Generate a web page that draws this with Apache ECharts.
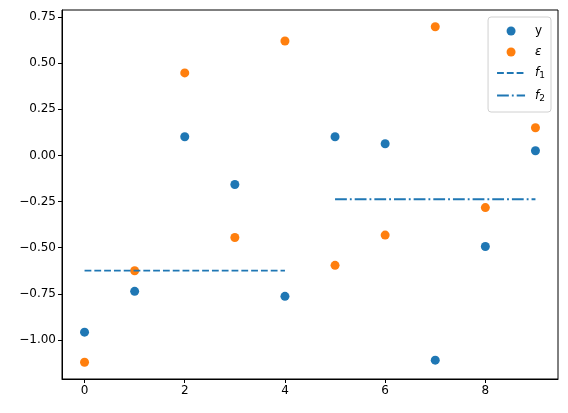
<!DOCTYPE html>
<html lang="en">
<head>
    <meta charset="UTF-8">
    <script src="https://cdn.jsdelivr.net/npm/echarts@6/dist/echarts.min.js"></script>
    <title>scatter</title>
    <style>
        html, body { margin: 0; padding: 0; background: #fff; }
    </style>
</head>
<body>
<div id="chart" style="width: 568px;height:413px;"></div>
<script type="text/javascript">

    // data
    var xs = [0, 1, 2, 3, 4, 5, 6, 7, 8, 9];
    var yValues = [-0.958, -0.737, 0.101, -0.158, -0.764, 0.101, 0.063, -1.110, -0.494, 0.025];
    var epsValues = [-1.121, -0.625, 0.447, -0.445, 0.620, -0.596, -0.432, 0.697, -0.283, 0.150];
    var f1X = [0, 4];
    var f1Y = [-0.625, -0.625];
    var f2X = [5, 9];
    var f2Y = [-0.238, -0.238];
    var xTicks = [0, 2, 4, 6, 8];
    var yTicks = [-1.00, -0.75, -0.50, -0.25, 0.00, 0.25, 0.50, 0.75];

    function pairs(a, b) {
        let out = [];
        for (let i = 0; i < a.length; i++) {
            out.push([a[i], b[i]]);
        }
        return out;
    }

    var chartDom = document.getElementById('chart');
    var myChart = echarts.init(chartDom);

    var blue = '#1f77b4';
    var orange = '#ff7f0e';
    var font = 'DejaVu Sans';

    var option = {
        animation: false,
        grid: {
            left: 62,
            right: 10,
            top: 10,
            bottom: 34,
            show: true,
            borderColor: '#000',
            borderWidth: 1,
            backgroundColor: 'transparent'
        },
        legend: {
            orient: 'vertical',
            right: 17,
            top: 17,
            padding: [8, 6, 9, 8],
            itemGap: 9,
            itemWidth: 28,
            itemHeight: 9,
            borderColor: '#d0d0d0',
            borderWidth: 1,
            borderRadius: 3,
            backgroundColor: 'rgba(255,255,255,0.8)',
            data: [
                {name: 'y', icon: 'circle'},
                {name: 'eps', icon: 'circle'},
                {name: 'f1', itemStyle: {opacity: 0, color: 'transparent', borderWidth: 0}},
                {name: 'f2', itemStyle: {opacity: 0, color: 'transparent', borderWidth: 0}}
            ],
            formatter: function (name) {
                if (name === 'y') return '{g|}{n|y}';
                if (name === 'eps') return '{g|}{i|ε}';
                if (name === 'f1') return '{g|}{i|f}{s|1}';
                return '{g|}{i|f}{s|2}';
            },
            textStyle: {
                fontFamily: font,
                fontSize: 12,
                color: '#000',
                rich: {
                    g: {width: 5},
                    n: {fontFamily: font, fontSize: 12, color: '#000'},
                    i: {fontFamily: font, fontSize: 12, fontStyle: 'italic', color: '#000'},
                    s: {fontFamily: font, fontSize: 9, color: '#000', padding: [6, 0, 0, 0]}
                }
            }
        },
        xAxis: {
            type: 'value',
            min: -0.45,
            max: 9.45,
            splitLine: {show: false},
            axisLine: {show: true, onZero: false, lineStyle: {color: '#000'}},
            axisTick: {
                show: true,
                customValues: xTicks,
                length: 4,
                lineStyle: {color: '#000'}
            },
            axisLabel: {
                customValues: xTicks,
                margin: 6,
                color: '#000',
                fontFamily: font,
                fontSize: 12,
                formatter: function (v) { return String(v); }
            }
        },
        yAxis: {
            type: 'value',
            min: -1.212,
            max: 0.788,
            splitLine: {show: false},
            axisLine: {show: true, onZero: false, lineStyle: {color: '#000'}},
            axisTick: {
                show: true,
                customValues: yTicks,
                length: 4,
                lineStyle: {color: '#000'}
            },
            axisLabel: {
                customValues: yTicks,
                margin: 6,
                color: '#000',
                fontFamily: font,
                fontSize: 12,
                formatter: function (v) {
                    let s = Math.abs(v).toFixed(2);
                    return v < -1e-9 ? '\u2212' + s : s;
                }
            }
        },
        series: [
            {
                name: 'y',
                type: 'scatter',
                symbol: 'circle',
                symbolSize: 9,
                itemStyle: {color: blue, opacity: 1},
                data: pairs(xs, yValues)
            },
            {
                name: 'eps',
                type: 'scatter',
                symbol: 'circle',
                symbolSize: 9,
                itemStyle: {color: orange, opacity: 1},
                data: pairs(xs, epsValues)
            },
            {
                name: 'f1',
                type: 'line',
                symbol: 'none',
                showSymbol: false,
                itemStyle: {color: blue},
                lineStyle: {color: blue, width: 1.85, type: [6.8, 3]},
                data: pairs(f1X, f1Y)
            },
            {
                name: 'f2',
                type: 'line',
                symbol: 'none',
                showSymbol: false,
                itemStyle: {color: blue},
                lineStyle: {color: blue, width: 1.85, type: [11.8, 3, 1.85, 3]},
                data: pairs(f2X, f2Y)
            }
        ]
    };

    myChart.setOption(option);
</script>
</body>
</html>
